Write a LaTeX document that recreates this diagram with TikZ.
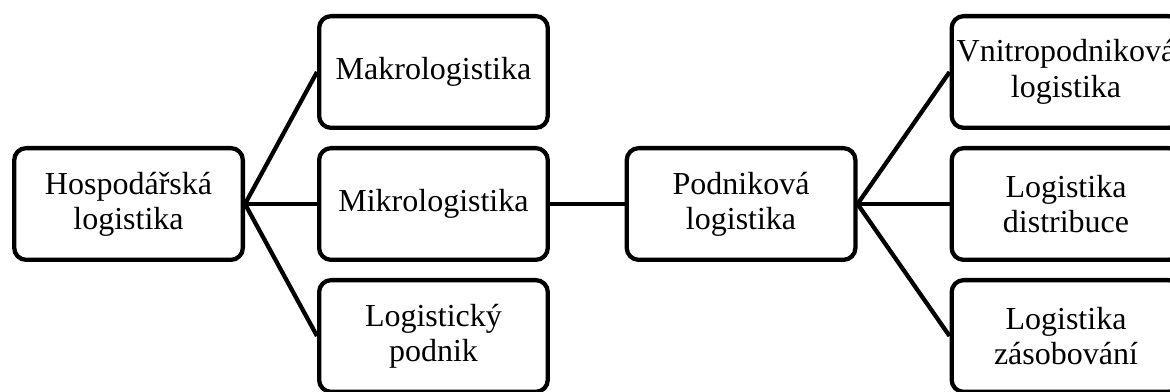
\documentclass[tikz,border=0pt]{standalone}
\usepackage{fontspec}
\setmainfont{Liberation Serif}
\usepackage{tikz}
\usetikzlibrary{positioning}
\definecolor{lineBlack}{HTML}{000000}

\begin{document}
\begin{tikzpicture}[
      node distance=12pt,
      catnode/.style={
        rectangle, rounded corners=9pt, fill=white, draw=lineBlack, line width=3.2pt,
        text=lineBlack, align=center, font=\fontsize{24pt}{26.5pt}\selectfont,
        minimum width=171.5pt, minimum height=83.8pt, inner sep=2pt, text width=167pt
      },
      branchline/.style={draw=lineBlack, line width=3.2pt}
    ]
      \useasboundingbox (-96.4pt,-141pt) rectangle (781.1pt,153pt);
      \clip (-96.4pt,-141pt) rectangle (781.1pt,153pt);

      \node[catnode] (hosp) at (0,0) {Hospodářská\\logistika};
      \node[catnode, right=54pt of hosp] (mikro) {Mikrologistika};
      \node[catnode, above=of mikro] (makro) {Makrologistika};
      \node[catnode, below=of mikro] (lpodnik) {Logistický\\podnik};
      \node[catnode, right=56pt of mikro] (podnik) {Podniková\\logistika};
      \node[catnode, right=69pt of podnik] (distr) {Logistika\\distribuce};
      \node[catnode, above=of distr] (vnitro) {Vnitropodniková\\logistika};
      \node[catnode, below=of distr] (zasob) {Logistika\\zásobování};

      \draw[branchline] (hosp.east) -- (makro.west);
      \draw[branchline] (hosp.east) -- (mikro.west);
      \draw[branchline] (hosp.east) -- (lpodnik.west);
      \draw[branchline] (mikro) -- (podnik);
      \draw[branchline] (podnik.east) -- (vnitro.west);
      \draw[branchline] (podnik.east) -- (distr.west);
      \draw[branchline] (podnik.east) -- (zasob.west);
    \end{tikzpicture}
\end{document}
